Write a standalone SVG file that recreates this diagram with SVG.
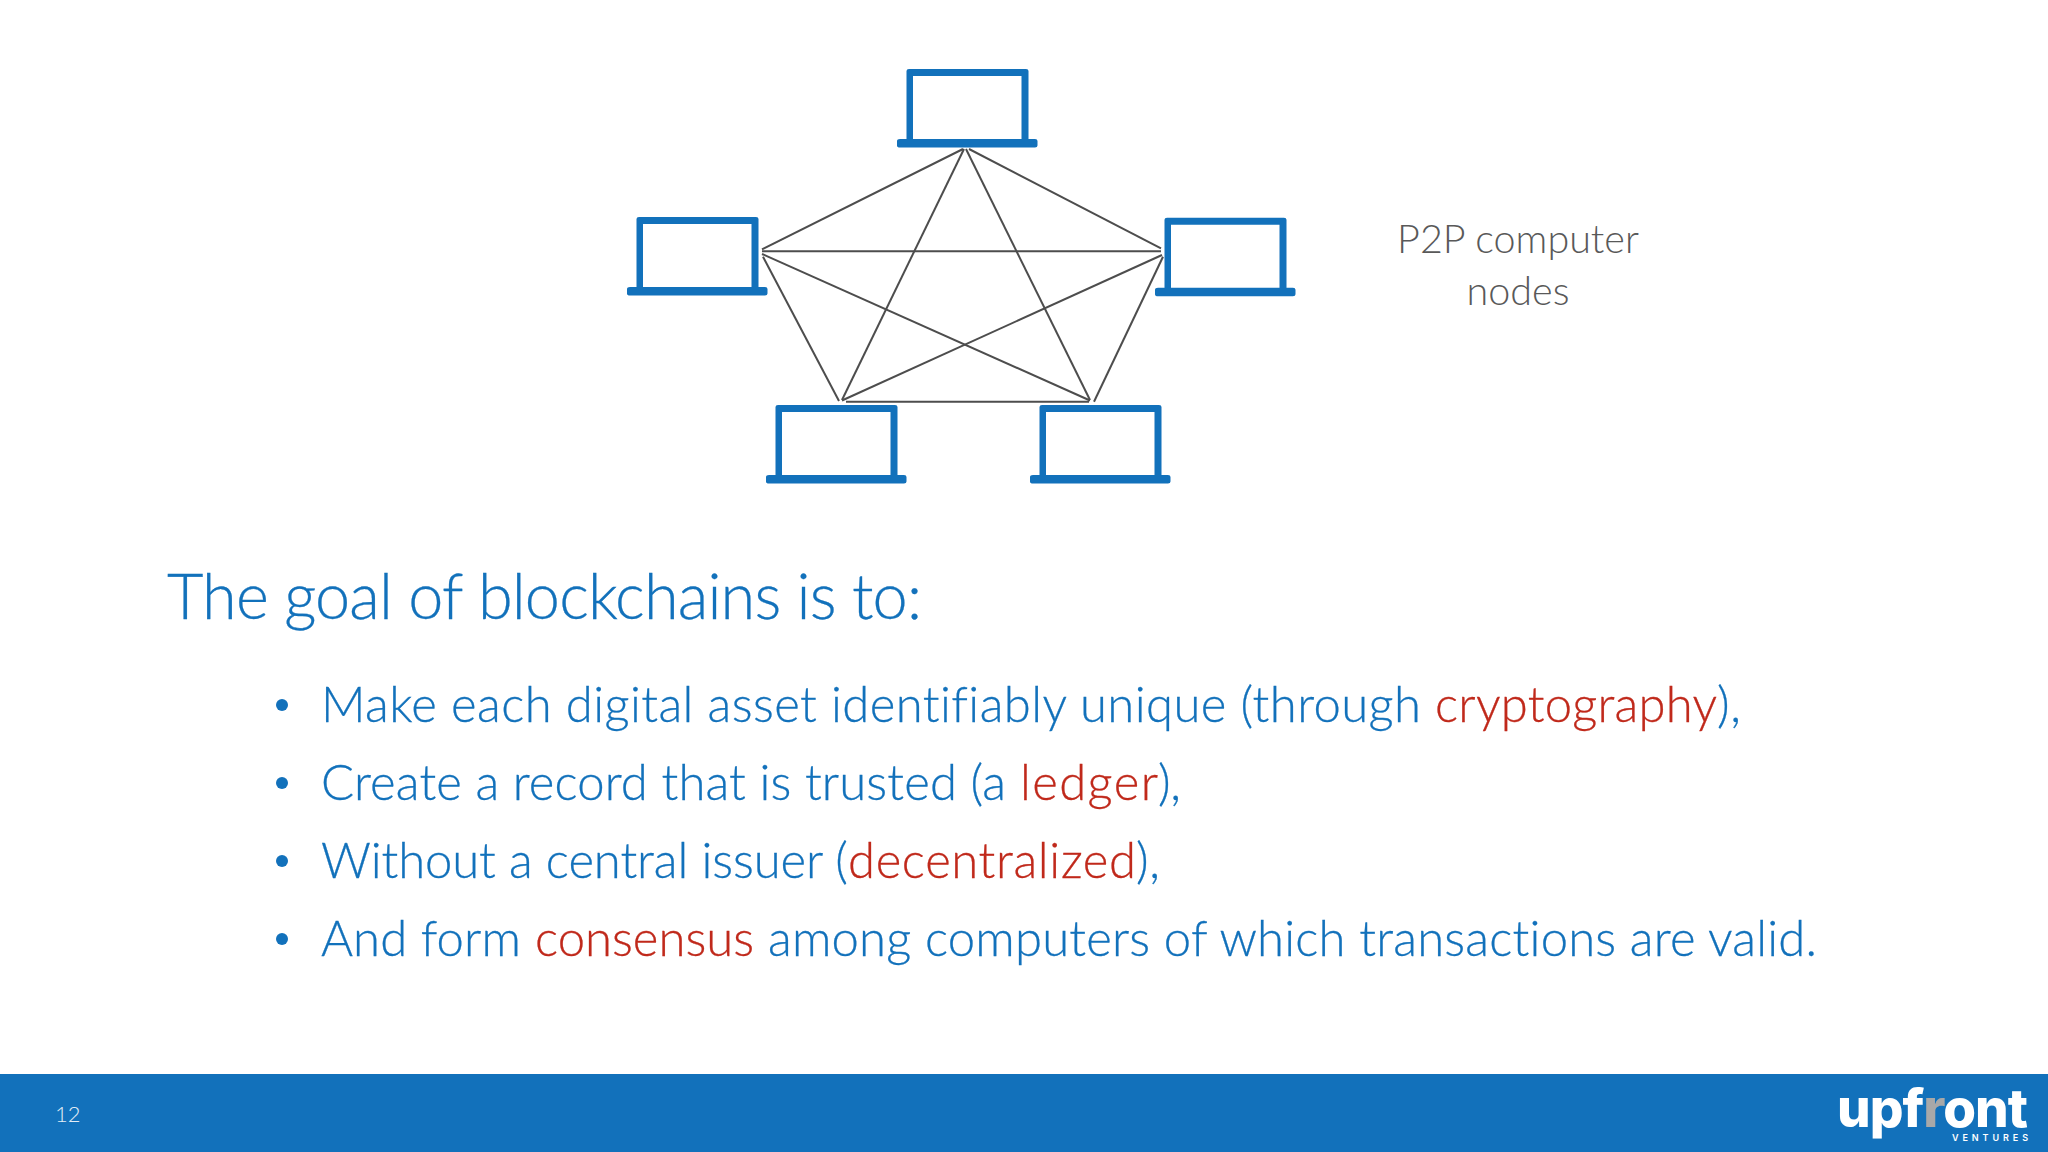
<svg xmlns="http://www.w3.org/2000/svg" width="2048" height="1152" viewBox="0 0 2048 1152">
<style>
text{font-family:"Lato","Noto Sans","Liberation Sans",sans-serif;font-weight:300;font-variant-ligatures:none}
.b{fill:#1271bb;stroke:#1271bb;stroke-width:.3px}.r{fill:#c0291b;stroke:#c0291b;stroke-width:.3px}
.t{font-size:63px}.l{font-size:49px}
.lab{font-size:39.500px;fill:#595959;text-anchor:middle}
#connectors line{stroke:#4d4d4d;stroke-width:2}
.lap{fill:#1271bb}
circle.b{stroke:none}
</style>
<defs>
<path id="laptop" class="lap" fill-rule="evenodd" d="M909 69H1026Q1028.500 69 1028.500 71V139H1035Q1037.500 139 1037.500 141V145.500Q1037.500 147.500 1035 147.500H900Q897 147.500 897 145.500V141Q897 139 900 139H906.500V71Q906.500 69 909 69ZM913 76V139H1021.500V76Z"/>
</defs>
<rect width="2048" height="1152" fill="#fff"/>
<g id="node-top"><use href="#laptop"/></g>
<g id="node-left"><use href="#laptop" x="-270" y="148"/></g>
<g id="node-right"><use href="#laptop" x="258" y="148.700"/></g>
<g id="node-bottom-left"><use href="#laptop" x="-131" y="336"/></g>
<g id="node-bottom-right"><use href="#laptop" x="133" y="336"/></g>
<g id="connectors">
<line x1="963" y1="149" x2="762" y2="249.300"/>
<line x1="969" y1="149" x2="1161" y2="248.300"/>
<line x1="964" y1="149" x2="842" y2="400"/>
<line x1="966" y1="149" x2="1090" y2="400"/>
<line x1="762" y1="251.300" x2="1161" y2="251.300"/>
<line x1="762" y1="254" x2="1090" y2="400.500"/>
<line x1="763" y1="256.700" x2="839" y2="401"/>
<line x1="1162" y1="255" x2="842" y2="400.500"/>
<line x1="1163" y1="256.700" x2="1094" y2="401.700"/>
<line x1="846" y1="401.700" x2="1089" y2="401.700"/>
</g>
<g id="label-p2p">
<text class="lab" x="1518" y="253">P2P computer</text>
<text class="lab" x="1518" y="305">nodes</text>
</g>
<text id="title" class="t b" x="167" y="619" textLength="755">The goal of blockchains is to:</text>
<g id="bullets">
<circle class="b" cx="282" cy="705" r="6"/>
<circle class="b" cx="282" cy="783" r="6"/>
<circle class="b" cx="282" cy="861" r="6"/>
<circle class="b" cx="282" cy="939" r="6"/>
<text class="l b" y="722"><tspan x="321" textLength="1100">Make each digital asset identifiably unique (through</tspan><tspan class="r" x="1435" textLength="282">cryptography</tspan><tspan x="1717" textLength="24">),</tspan></text>
<text class="l b" y="800"><tspan x="321" textLength="685">Create a record that is trusted (a</tspan><tspan class="r" x="1020" textLength="138">ledger</tspan><tspan x="1158" textLength="23">),</tspan></text>
<text class="l b" y="878"><tspan x="321" textLength="527">Without a central issuer (</tspan><tspan class="r" x="848" textLength="288">decentralized</tspan><tspan x="1136" textLength="24">),</tspan></text>
<text class="l b" y="956"><tspan x="321" textLength="200">And form</tspan><tspan class="r" x="535" textLength="219">consensus</tspan><tspan x="768" textLength="1049">among computers of which transactions are valid.</tspan></text>
</g>
<rect id="footer" y="1074" width="2048" height="78" fill="#1271bb"/>
<text x="55" y="1122" fill="#e3edf6" style="font-size:22px">12</text>
<g id="logo">
<text x="1837" y="1127" textLength="191" style="font-family:Inter,Lato,sans-serif;font-weight:800;font-size:53px" fill="#fff">upf<tspan fill="#a8a8a8">r</tspan>ont</text>
<text x="1952" y="1141" textLength="76" style="font-family:Inter,Lato,sans-serif;font-weight:600;font-size:9px" fill="#fff">VENTURES</text>
</g>
</svg>
